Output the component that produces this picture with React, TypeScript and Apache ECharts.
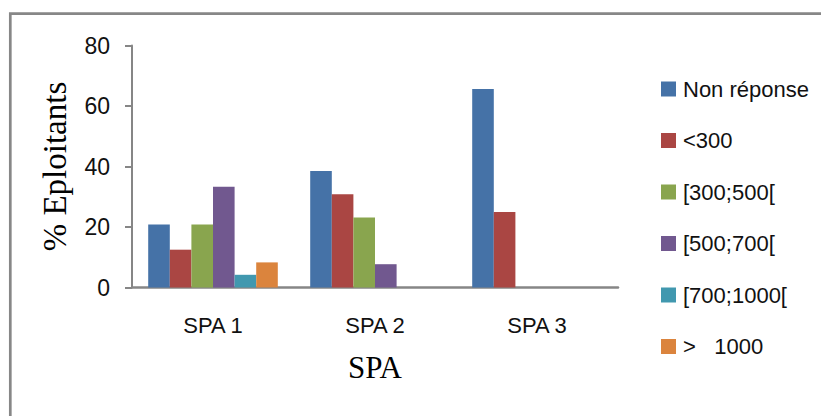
import React, { useEffect, useRef } from "react";
import * as echarts from "echarts";

const categories = ["SPA 1", "SPA 2", "SPA 3"];
const seriesNames = ["Non réponse", "<300", "[300;500[", "[500;700[", "[700;1000[", ">   1000"];
const nonReponse = [20.8, 38.5, 65.6];
const lt300 = [12.5, 30.8, 25.0];
const r300_500 = [20.8, 23.1, 0];
const r500_700 = [33.3, 7.7, 0];
const r700_1000 = [4.2, 0, 0];
const gt1000 = [8.3, 0, 0];
const yTicks = { min: 0, max: 80, interval: 20 };
const colors = ["#4572A7", "#AA4643", "#89A54E", "#71588F", "#4198AF", "#DB843D"];

const seriesData = [nonReponse, lt300, r300_500, r500_700, r700_1000, gt1000];

export default function App() {
  const ref = useRef<HTMLDivElement>(null);
  useEffect(() => {
    if (!ref.current) return;
    const chart = echarts.init(ref.current, null, { renderer: "svg" });
    const sans = "'Liberation Sans', Arial, sans-serif";
    const serif = "'Liberation Serif', 'Times New Roman', serif";
    chart.setOption({
      animation: false,
      backgroundColor: "#ffffff",
      color: colors,
      graphic: [
        {
          type: "rect",
          shape: { x: 10.3, y: 13.6, width: 900, height: 500 },
          style: { fill: "none", stroke: "#878787", lineWidth: 2.7 },
          silent: true,
        },
      ],
      grid: { left: 132, right: 203, top: 45.5, bottom: 128.5, containLabel: false },
      legend: {
        orient: "vertical",
        left: 656,
        top: 73,
        itemWidth: 15,
        itemHeight: 15,
        itemGap: 29.5,
        icon: "rect",
        textStyle: { fontFamily: sans, fontSize: 22, color: "#111", padding: [0, 0, 0, 2] },
        data: seriesNames,
      },
      xAxis: {
        type: "category",
        data: categories,
        name: "SPA",
        nameLocation: "middle",
        nameGap: 64,
        nameTextStyle: { fontFamily: serif, fontSize: 31, color: "#000" },
        axisLine: { lineStyle: { color: "#868686", width: 2.5 } },
        axisTick: { show: false },
        axisLabel: { fontFamily: sans, fontSize: 22, color: "#111", margin: 27 },
      },
      yAxis: {
        type: "value",
        min: yTicks.min,
        max: yTicks.max,
        interval: yTicks.interval,
        name: "% Eploitants",
        nameLocation: "middle",
        nameGap: 61,
        nameTextStyle: { fontFamily: serif, fontSize: 33, color: "#000" },
        axisLine: { show: true, lineStyle: { color: "#868686", width: 2 } },
        axisTick: { show: true, length: 7, lineStyle: { color: "#868686", width: 2 } },
        splitLine: { show: false },
        axisLabel: { fontFamily: sans, fontSize: 23, color: "#111", margin: 22 },
      },
      series: seriesNames.map((name, i) => ({
        name,
        type: "bar",
        data: seriesData[i],
        barGap: "0%",
        barCategoryGap: "20%",
        itemStyle: { color: colors[i] },
      })),
    });
    return () => chart.dispose();
  }, []);
  return (
    <div
      ref={ref}
      style={{ position: "absolute", left: 0, top: 0, width: 821, height: 416 }}
    />
  );
}
